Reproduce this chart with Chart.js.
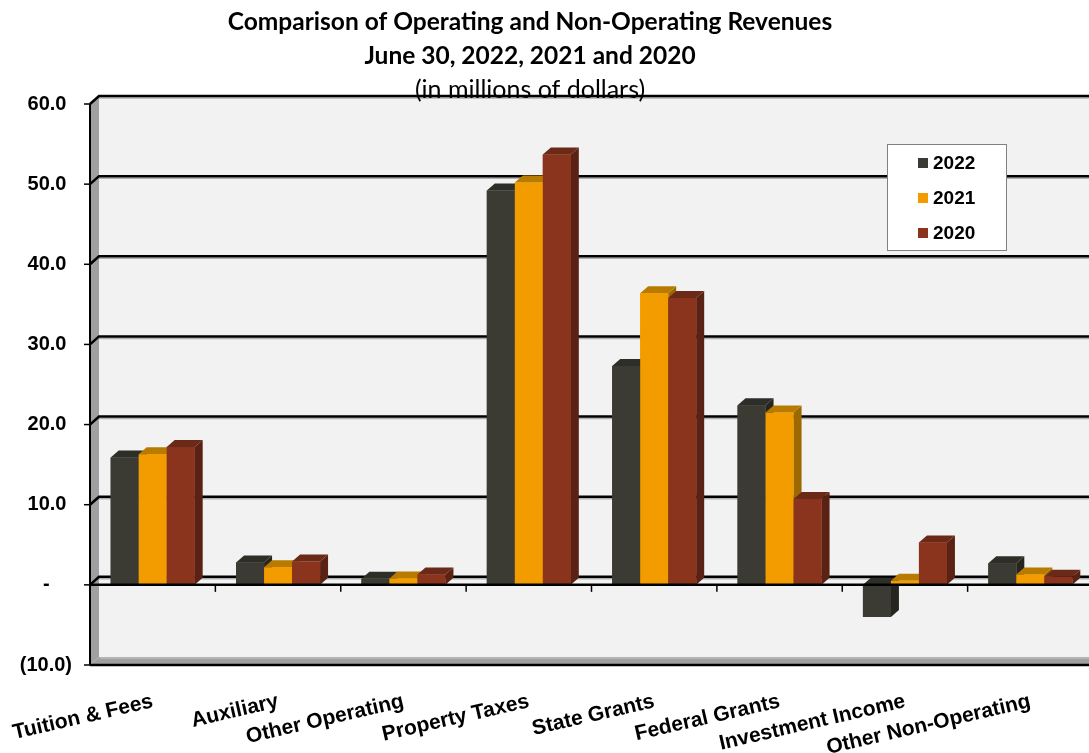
<!DOCTYPE html>
<html><head><meta charset="utf-8">
<script src="https://cdn.jsdelivr.net/npm/chart.js@4.4.1/dist/chart.umd.min.js"></script>
<style>
html,body{margin:0;padding:0;background:#fff;overflow:hidden;width:1089px;height:753px}
#wrap{position:absolute;left:-33px;top:0;width:1126px;height:753px}
</style></head>
<body><div id="wrap"><canvas id="c" width="1126" height="753"></canvas></div>
<script>
// ---- data ----
const categories = ['Tuition & Fees','Auxiliary','Other Operating','Property Taxes','State Grants','Federal Grants','Investment Income','Other Non-Operating'];
const seriesNames = ['2022','2021','2020'];
const values2022 = [15.9, 2.8, 0.75, 49.2, 27.3, 22.4, -4.0, 2.7];
const values2021 = [16.3, 2.2, 0.8, 50.2, 36.4, 21.5, 0.5, 1.3];
const values2020 = [17.2, 2.9, 1.3, 53.7, 35.8, 10.7, 5.3, 1.0];
const yMin = -10, yMax = 60, yStep = 10;
const titleLines = ['Comparison of Operating and Non-Operating Revenues', 'June 30, 2022, 2021 and 2020'];
const subtitleText = '(in millions of dollars)';

// ---- styles ----
const frontColors = ['#3b3b33', '#f39c00', '#8a341d'];
const topColors   = ['#2d2e28', '#b87b00', '#6b2918'];
const sideColors  = ['#262621', '#9c6800', '#5a2214'];
const WD = {x: 9, y: 8};   // wall depth
const BD = {x: 8, y: 7};   // bar depth
const FONT = "'Liberation Sans', Arial, sans-serif";

function poly(ctx, pts, fill) {
  ctx.beginPath(); ctx.moveTo(pts[0][0], pts[0][1]);
  for (let i = 1; i < pts.length; i++) ctx.lineTo(pts[i][0], pts[i][1]);
  ctx.closePath(); ctx.fillStyle = fill; ctx.fill();
}
function line(ctx, pts, color, w) {
  ctx.beginPath(); ctx.moveTo(pts[0][0], pts[0][1]);
  for (let i = 1; i < pts.length; i++) ctx.lineTo(pts[i][0], pts[i][1]);
  ctx.strokeStyle = color; ctx.lineWidth = w; ctx.stroke();
}

const wallPlugin = {
  id: 'walls',
  beforeDraw(chart) {
    const ctx = chart.ctx, ys = chart.scales.y, a = chart.chartArea, W = chart.width;
    const yTop = ys.getPixelForValue(yMax), yBot = ys.getPixelForValue(yMin);
    const L = a.left;
    ctx.save();
    ctx.fillStyle = '#f2f2f2';
    ctx.fillRect(L + WD.x, yTop - WD.y, W - L, yBot - yTop);
    poly(ctx, [[L, yTop], [L + WD.x, yTop - WD.y], [L + WD.x, yBot - WD.y], [L, yBot]], '#a0a0a0');
    poly(ctx, [[L, yBot], [L + WD.x, yBot - WD.y], [W, yBot - WD.y], [W, yBot]], '#a0a0a0');
    line(ctx, [[L + WD.x + 1, yBot - WD.y + 1], [W, yBot - WD.y + 1]], '#c8c8c8', 1);
    for (let v = yMax; v > yMin; v -= yStep) {
      const p = ys.getPixelForValue(v);
      line(ctx, [[L + WD.x, p - WD.y + 2], [W, p - WD.y + 2]], '#b0b0b0', 1.5);
      line(ctx, [[L, p], [L + WD.x, p - WD.y], [W, p - WD.y]], '#000', 2.5);
    }
    line(ctx, [[L, yTop], [L, yBot]], '#000', 2);
    for (let v = yMax; v >= yMin; v -= yStep) {
      const p = ys.getPixelForValue(v);
      line(ctx, [[L - 6, p], [L, p]], '#000', 1.5);
    }
    line(ctx, [[L, yBot], [W, yBot]], '#000', 2.5);
    ctx.restore();
  },
  afterDatasetsDraw(chart) {
    const ctx = chart.ctx, ys = chart.scales.y, a = chart.chartArea, W = chart.width;
    ctx.save();
    // redraw the bars as 3D blocks, left to right within each group
    const metas = chart.data.datasets.map((d, i) => chart.getDatasetMeta(i));
    for (let c = 0; c < categories.length; c++) {
      metas.forEach((meta, i) => {
        const bar = meta.data[c];
        const {x, y, base, width} = bar.getProps(['x', 'y', 'base', 'width'], true);
        const l = x - width / 2, r = x + width / 2;
        const t = Math.min(y, base), b = Math.max(y, base);
        poly(ctx, [[r, t], [r + BD.x, t - BD.y], [r + BD.x, b - BD.y], [r, b]], sideColors[i]);
        poly(ctx, [[l, t], [l + BD.x, t - BD.y], [r + BD.x, t - BD.y], [r, t]], topColors[i]);
        ctx.fillStyle = frontColors[i];
        ctx.fillRect(l, t, r - l, b - t);
      });
    }
    const y0 = ys.getPixelForValue(0);
    line(ctx, [[a.left, y0], [W, y0]], '#000', 2.5);
    const n = categories.length, cw = (a.right - a.left) / n;
    for (let k = 0; k <= n; k++) {
      const x = a.left + k * cw;
      line(ctx, [[x, y0], [x, y0 + 7]], '#000', 1.5);
    }
    ctx.restore();
  },
  afterDraw(chart) {
    const ctx = chart.ctx, a = chart.chartArea;
    const bx = a.left + 797, by = 144, bw = 119, bh = 106;
    ctx.save();
    ctx.fillStyle = '#fff'; ctx.fillRect(bx, by, bw, bh);
    ctx.strokeStyle = '#808080'; ctx.lineWidth = 1;
    ctx.strokeRect(bx + 0.5, by + 0.5, bw, bh);
    ctx.font = 'bold 19px ' + FONT; ctx.textBaseline = 'middle'; ctx.textAlign = 'left';
    const rows = [163, 198, 233];
    chart.data.datasets.forEach((ds, i) => {
      ctx.fillStyle = frontColors[i];
      ctx.fillRect(bx + 31, rows[i] - 5, 10, 10);
      ctx.fillStyle = '#000';
      ctx.fillText(ds.label, bx + 46, rows[i] + 1);
    });
    ctx.restore();
  }
};

const seriesValues = [values2022, values2021, values2020];
new Chart(document.getElementById('c'), {
  type: 'bar',
  data: {
    labels: categories,
    datasets: seriesNames.map((name, i) => ({
      label: name,
      data: seriesValues[i],
      backgroundColor: frontColors[i],
      borderWidth: 0,
      categoryPercentage: 0.67,
      barPercentage: 1.0
    }))
  },
  options: {
    responsive: false,
    animation: false,
    layout: {padding: {left: 0, right: 0, top: 0, bottom: 0}},
    plugins: {
      legend: {display: false},
      tooltip: {enabled: false},
      title: {
        display: true, text: titleLines, color: '#000',
        font: {family: 'Lato', size: 24.5, weight: 'bold', lineHeight: 34 / 24.5},
        padding: {top: 5, bottom: 0}
      },
      subtitle: {
        display: true, text: subtitleText, color: '#000',
        font: {family: 'Lato', size: 25, weight: 'normal', lineHeight: 28 / 25},
        padding: {top: 3, bottom: 0}
      }
    },
    scales: {
      x: {
        grid: {display: false, drawTicks: false},
        border: {display: false},
        ticks: {
          color: '#000', font: {family: FONT, size: 21, weight: 'bold'},
          minRotation: 13, maxRotation: 13, padding: 24, autoSkip: false
        },
        afterFit(s) { s.height = 88; }
      },
      y: {
        min: yMin, max: yMax,
        grid: {display: false, drawTicks: false},
        border: {display: false},
        ticks: {
          stepSize: yStep, color: '#000', padding: 18,
          font: {family: FONT, size: 20, weight: 'bold'},
          callback: v => v === 0 ? '-    ' : (v < 0 ? '(' + Math.abs(v).toFixed(1) + ')' : v.toFixed(1) + ' ')
        },
        afterFit(s) { s.width = 123; }
      }
    }
  },
  plugins: [wallPlugin]
});
</script>
</body></html>
